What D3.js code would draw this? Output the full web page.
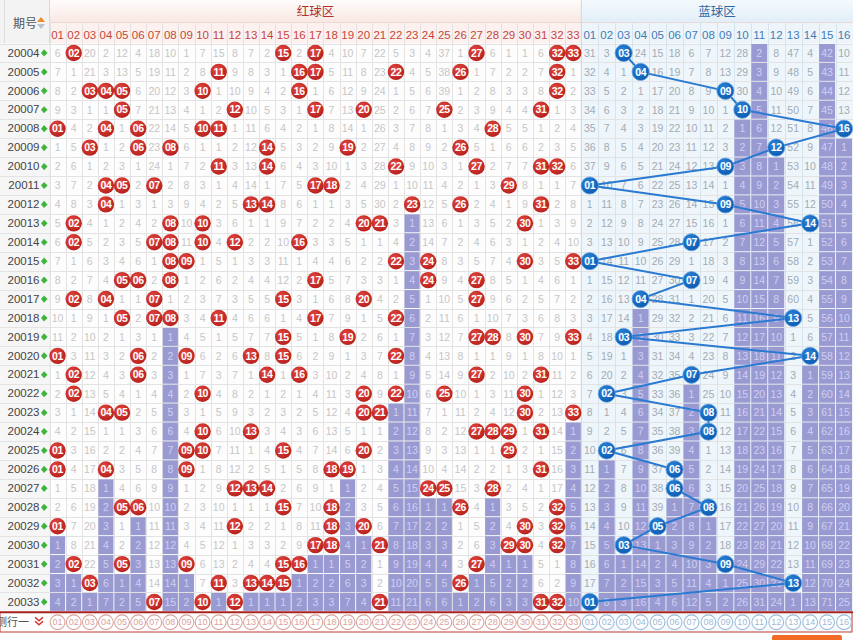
<!DOCTYPE html>
<html>
<head>
<meta charset="utf-8">
<script src="https://cdn.jsdelivr.net/npm/d3@7"></script>
<style>
  html, body { margin: 0; padding: 0; background: #fff; overflow: hidden; }
  svg { display: block; font-family: "Liberation Sans", Arial, "Noto Sans CJK SC", sans-serif; }
</style>
</head>
<body>
<div id="chart"></div>
<script>
// ---- draw record: periods, red balls (6 per period), blue ball ----
const periods = ["20004","20005","20006","20007","20008","20009","20010","20011","20012","20013",
                 "20014","20015","20016","20017","20018","20019","20020","20021","20022","20023",
                 "20024","20025","20026","20027","20028","20029","20030","20031","20032","20033"];

const redLabels = ["01","02","03","04","05","06","07","08","09","10","11","12","13","14","15","16","17",
                   "18","19","20","21","22","23","24","25","26","27","28","29","30","31","32","33"];
const blueLabels = ["01","02","03","04","05","06","07","08","09","10","11","12","13","14","15","16"];

const redDraws = [
  [2,15,17,27,32,33], [11,16,17,22,26,32], [3,4,5,10,16,32], [5,12,17,20,25,31],
  [1,4,6,10,11,28], [3,6,8,14,19,26], [11,14,22,27,31,32], [4,5,7,17,18,29],
  [4,13,14,23,26,31], [2,8,10,20,21,30], [2,7,8,10,12,16], [8,9,22,24,30,33],
  [5,6,8,17,24,27], [2,4,7,15,20,27], [5,7,8,11,17,22], [15,19,27,28,30,33],
  [1,6,9,13,15,22], [2,6,14,16,27,31], [2,10,20,22,25,30], [4,5,20,21,30,33],
  [10,13,27,28,29,31], [1,9,10,15,20,29], [1,4,9,18,19,31], [12,13,14,24,25,28],
  [5,6,15,18,26,32], [1,12,18,20,30,32], [17,18,21,29,30,32], [2,5,9,15,16,27],
  [3,11,13,14,15,26], [7,10,12,21,31,32]
];
const blueDraws = [3,4,9,10,16,12,9,1,9,14,7,1,7,4,13,3,14,7,2,8,8,2,6,6,8,5,3,9,13,1];

// omission count of each number in the first listed period (0 = drawn)
const redOmitStart  = [6,0,20,2,12,4,18,10,1,7,15,8,7,2,0,2,0,4,10,7,22,5,3,4,37,1,0,6,1,1,6,0,0];
const blueOmitStart = [31,3,0,24,15,18,6,7,12,28,2,8,47,4,42,10];

// ---- layout ----
const W = 853, H = 640;
const xLeft = 49.5, xMid = 581.3, xRight = 852.5;
const yTop = 43.5, yBottom = 611.4, yHead = 22;

const xRed  = d3.scaleBand().domain(redLabels).range([xLeft, xMid]);
const xBlue = d3.scaleBand().domain(blueLabels).range([xMid, xRight]);
const y     = d3.scaleBand().domain(periods).range([yTop, yBottom]);

// omission table: counter since the number was last drawn
function buildTable(draws, start, labels) {
  const rows = [];
  let prev = null;
  draws.forEach((hits, i) => {
    const set = new Set(hits);
    const row = labels.map((lab, j) => {
      const n = j + 1;
      const hit = set.has(n);
      const omit = hit ? 0 : (i === 0 ? start[j] : prev[j].omit + 1);
      return { period: periods[i], label: lab, n, hit, omit };
    });
    rows.push(row);
    prev = row;
  });
  // the current run of misses (after the last draw of each number) is shaded
  labels.forEach((lab, j) => {
    let last = -1;
    rows.forEach((r, i) => { if (r[j].hit) last = i; });
    rows.forEach((r, i) => { r[j].shade = i > last; });
  });
  return rows.flat();
}
const redCells  = buildTable(redDraws, redOmitStart, redLabels);
const blueCells = buildTable(blueDraws.map(b => [b]), blueOmitStart, blueLabels);

const svg = d3.select("#chart").append("svg").attr("width", W).attr("height", H);
const defs = svg.append("defs");

const gHeadRed = defs.append("linearGradient").attr("id", "headRed").attr("x1", 0).attr("y1", 0).attr("x2", 0).attr("y2", 1);
gHeadRed.append("stop").attr("offset", "0%").attr("stop-color", "#fefcfb");
gHeadRed.append("stop").attr("offset", "100%").attr("stop-color", "#f8e8e3");
const gHeadBlue = defs.append("linearGradient").attr("id", "headBlue").attr("x1", 0).attr("y1", 0).attr("x2", 0).attr("y2", 1);
gHeadBlue.append("stop").attr("offset", "0%").attr("stop-color", "#f4f9fd");
gHeadBlue.append("stop").attr("offset", "100%").attr("stop-color", "#e2eff8");
const gRedBall = defs.append("radialGradient").attr("id", "redBall").attr("cx", "40%").attr("cy", "35%").attr("r", "65%");
gRedBall.append("stop").attr("offset", "0%").attr("stop-color", "#e4473f");
gRedBall.append("stop").attr("offset", "100%").attr("stop-color", "#b8211d");
const gBlueBall = defs.append("radialGradient").attr("id", "blueBall").attr("cx", "40%").attr("cy", "35%").attr("r", "65%");
gBlueBall.append("stop").attr("offset", "0%").attr("stop-color", "#2c86db");
gBlueBall.append("stop").attr("offset", "100%").attr("stop-color", "#0c5bb0");

// ---- header ----
svg.append("rect").attr("x", 0).attr("y", 0).attr("width", xLeft).attr("height", yTop).attr("fill", "#f3f3f3");
svg.append("line").attr("x1", 4.5).attr("x2", 4.5).attr("y1", 0).attr("y2", yTop).attr("stroke", "#dcdcdc");
svg.append("rect").attr("x", xLeft).attr("y", 0).attr("width", xMid - xLeft).attr("height", yHead).attr("fill", "url(#headRed)");
svg.append("rect").attr("x", xLeft).attr("y", yHead).attr("width", xMid - xLeft).attr("height", yTop - yHead).attr("fill", "#fcf1ee");
svg.append("rect").attr("x", xMid).attr("y", 0).attr("width", W - xMid).attr("height", yHead).attr("fill", "url(#headBlue)");
svg.append("rect").attr("x", xMid).attr("y", yHead).attr("width", W - xMid).attr("height", yTop - yHead).attr("fill", "#edf5fb");
svg.append("line").attr("x1", xLeft).attr("x2", W).attr("y1", yHead + 0.5).attr("y2", yHead + 0.5).attr("stroke", "#ead9d4");
svg.append("line").attr("x1", xLeft).attr("x2", xLeft).attr("y1", 0).attr("y2", yBottom).attr("stroke", "#d8d8d8");

svg.append("text").attr("x", (xLeft + xMid) / 2).attr("y", 15.5).attr("text-anchor", "middle")
  .attr("font-size", 12.5).attr("fill", "#b0302b").attr("font-family", "'Noto Sans CJK SC', sans-serif").text("红球区");
svg.append("text").attr("x", (xMid + xRight) / 2).attr("y", 15.5).attr("text-anchor", "middle")
  .attr("font-size", 12.5).attr("fill", "#2e6aa5").attr("font-family", "'Noto Sans CJK SC', sans-serif").text("蓝球区");
svg.append("text").attr("x", 25).attr("y", 27.5).attr("text-anchor", "middle")
  .attr("font-size", 12).attr("fill", "#555").attr("font-family", "'Noto Sans CJK SC', sans-serif").text("期号");
svg.append("path").attr("d", "M37,22 L41,17 L45,22 Z").attr("fill", "#f08a24");
svg.append("path").attr("d", "M37,24 L41,29 L45,24 Z").attr("fill", "#b9c3cc");

// number headers
const axRed = svg.append("g").attr("transform", `translate(0,${yTop - 5})`)
  .call(d3.axisTop(xRed).tickSize(0).tickPadding(0));
axRed.select(".domain").remove();
axRed.selectAll("text").attr("font-size", 11.5).attr("fill", "#c8453c").attr("font-family", "'Liberation Sans', Arial, sans-serif");
const axBlue = svg.append("g").attr("transform", `translate(0,${yTop - 5})`)
  .call(d3.axisTop(xBlue).tickSize(0).tickPadding(0));
axBlue.select(".domain").remove();
axBlue.selectAll("text").attr("font-size", 11.5).attr("fill", "#3f7cb8").attr("font-family", "'Liberation Sans', Arial, sans-serif");

// ---- body backgrounds ----
svg.append("rect").attr("x", 0).attr("y", yTop).attr("width", xLeft).attr("height", yBottom - yTop).attr("fill", "#f6f6f6");
svg.append("rect").attr("x", xLeft).attr("y", yTop).attr("width", xMid - xLeft).attr("height", yBottom - yTop).attr("fill", "#fdfdfd");
svg.append("rect").attr("x", xMid).attr("y", yTop).attr("width", W - xMid).attr("height", yBottom - yTop).attr("fill", "#eef6fb");

// grid lines
const grid = svg.append("g");
grid.selectAll("line.h").data(periods).join("line")
  .attr("x1", 0).attr("x2", W)
  .attr("y1", d => Math.round(y(d)) + 0.5).attr("y2", d => Math.round(y(d)) + 0.5)
  .attr("stroke", "#e3e3e3");
grid.selectAll("line.vr").data(redLabels).join("line")
  .attr("x1", d => Math.round(xRed(d)) + 0.5).attr("x2", d => Math.round(xRed(d)) + 0.5)
  .attr("y1", yHead).attr("y2", yBottom).attr("stroke", "#e3e3e3");
svg.append("g").selectAll("line").data(blueLabels).join("line")
  .attr("x1", d => Math.round(xBlue(d)) + 0.5).attr("x2", d => Math.round(xBlue(d)) + 0.5)
  .attr("y1", yHead).attr("y2", yBottom).attr("stroke", "#d6e4ee");
svg.append("line").attr("x1", xMid).attr("x2", xMid).attr("y1", 0).attr("y2", yBottom).attr("stroke", "#c9d9e6");

// shaded current-omission runs
function drawShade(cells, x) {
  svg.append("g").selectAll("rect").data(cells.filter(c => c.shade)).join("rect")
    .attr("x", d => x(d.label) + 0.5).attr("y", d => y(d.period) + 0.5)
    .attr("width", x.bandwidth() - 1).attr("height", y.bandwidth() - 1)
    .attr("fill", "#9a9ad3");
}
drawShade(redCells, xRed);
drawShade(blueCells, xBlue);

// omission numbers
function drawOmit(cells, x, color) {
  svg.append("g").selectAll("text").data(cells.filter(c => !c.hit)).join("text")
    .attr("x", d => x(d.label) + x.bandwidth() / 2)
    .attr("y", d => y(d.period) + y.bandwidth() / 2 + 3.8)
    .attr("text-anchor", "middle").attr("font-size", 10.5)
    .attr("fill", d => d.shade ? "#cfcff0" : color)
    .text(d => d.omit);
}
drawOmit(redCells, xRed, "#c6c6c6");
drawOmit(blueCells, xBlue, "#a3abb3");

// period labels
const axP = svg.append("g").attr("transform", `translate(${xLeft},0)`)
  .call(d3.axisLeft(y).tickSize(0).tickPadding(10));
axP.select(".domain").remove();
axP.selectAll("text").attr("font-size", 11.5).attr("fill", "#444").attr("font-family", "'Liberation Sans', Arial, sans-serif");
svg.append("g").selectAll("path").data(periods).join("path")
  .attr("transform", d => `translate(44,${y(d) + y.bandwidth() / 2})`)
  .attr("d", "M-3,0 L0,-3.6 L3.6,0 L0,3.6 Z").attr("fill", "#3fb43d");

// red balls
const redHits = redCells.filter(c => c.hit);
const gr = svg.append("g").selectAll("g").data(redHits).join("g")
  .attr("transform", d => `translate(${xRed(d.label) + xRed.bandwidth() / 2},${y(d.period) + y.bandwidth() / 2})`);
gr.append("circle").attr("r", 8.2).attr("fill", "url(#redBall)");
gr.append("text").attr("text-anchor", "middle").attr("y", 3.7).attr("font-size", 10.5)
  .attr("font-weight", "bold").attr("fill", "#fff").attr("letter-spacing", -0.4).text(d => d.label);

// blue ball trend line + balls
const blueHits = blueCells.filter(c => c.hit);
const bx = d => xBlue(d.label) + xBlue.bandwidth() / 2;
const by = d => y(d.period) + y.bandwidth() / 2;
svg.append("path").datum(blueHits)
  .attr("d", d3.line().x(bx).y(by))
  .attr("fill", "none").attr("stroke", "#2a7ad2").attr("stroke-width", 2);
const gb = svg.append("g").selectAll("g").data(blueHits).join("g")
  .attr("transform", d => `translate(${bx(d)},${by(d)})`);
gb.append("circle").attr("r", 8.6).attr("fill", "url(#blueBall)").attr("stroke", "#6aa6e4").attr("stroke-width", 0.8);
gb.append("text").attr("text-anchor", "middle").attr("y", 3.7).attr("font-size", 10.5)
  .attr("font-weight", "bold").attr("fill", "#fff").attr("letter-spacing", -0.4).text(d => d.label);

// ---- bottom selection row ----
const yRow0 = 612.5, yRow1 = 632;
svg.append("rect").attr("x", 0).attr("y", yRow0).attr("width", xMid).attr("height", yRow1 - yRow0).attr("fill", "#fff");
svg.append("rect").attr("x", xMid).attr("y", yRow0).attr("width", W - xMid).attr("height", yRow1 - yRow0).attr("fill", "#f5fafd");
svg.append("rect").attr("x", 0).attr("y", yRow0).attr("width", xRight - 0.5).attr("height", yRow1 - yRow0)
  .attr("fill", "none").attr("stroke", "#c23b33").attr("stroke-width", 1);
svg.append("line").attr("x1", 0).attr("x2", W).attr("y1", yBottom + 0.8).attr("y2", yBottom + 0.8)
  .attr("stroke", "#a8231e").attr("stroke-width", 2);
const yc = (yRow0 + yRow1) / 2;
svg.append("text").attr("x", 29).attr("y", yc + 4).attr("text-anchor", "end")
  .attr("font-size", 11).attr("fill", "#555").attr("font-family", "'Noto Sans CJK SC', sans-serif").text("测行一");
svg.append("path").attr("d", `M35,${yc - 5} L39,${yc - 1.5} L43,${yc - 5} M35,${yc - 1} L39,${yc + 2.5} L43,${yc - 1}`)
  .attr("fill", "none").attr("stroke", "#d2342c").attr("stroke-width", 1.6);
function drawPicks(labels, x, color) {
  const g = svg.append("g").selectAll("g").data(labels).join("g")
    .attr("transform", d => `translate(${x(d) + x.bandwidth() / 2},${yc})`);
  g.append("circle").attr("r", 7.4).attr("fill", "#fff").attr("stroke", color).attr("stroke-width", 1.1);
  g.append("text").attr("text-anchor", "middle").attr("y", 3.2).attr("font-size", 9)
    .attr("fill", color).text(d => d);
}
drawPicks(redLabels, xRed, "#d9a39d");
drawPicks(blueLabels, xBlue, "#9dbbd8");

// button peeking below the row
svg.append("rect").attr("x", 772).attr("y", 635).attr("width", 70).attr("height", 12).attr("rx", 2).attr("fill", "#f26a24");
</script>
</body>
</html>
